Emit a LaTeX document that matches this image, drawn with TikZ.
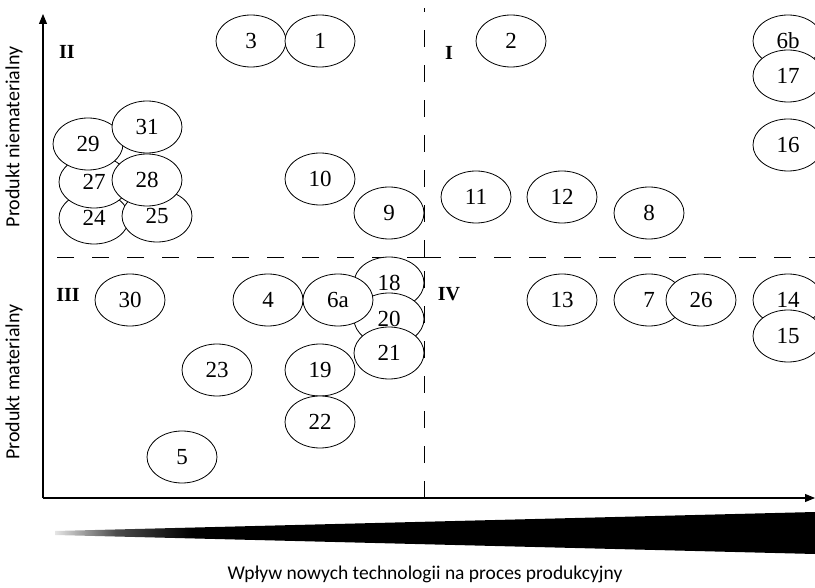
\documentclass[tikz,border=0pt]{standalone}
\usepackage{fontspec}
\setmainfont{Liberation Serif}
\newfontfamily\calfont{Carlito}
\usetikzlibrary{shapes.geometric,arrows.meta}
\pgfdeclarehorizontalshading{wedgeshade}{100bp}{color(0bp)=(black!10); color(25bp)=(black!10); color(29bp)=(black!70); color(34bp)=(black); color(100bp)=(black)}
\tikzset{
  bub/.style={ellipse, draw, fill=white, minimum width=70pt, minimum height=52pt, inner sep=0pt, line width=0.8pt, font=\fontsize{23}{25}\selectfont},
  quad/.style={font=\fontsize{20}{22}\selectfont\bfseries, inner sep=0pt},
  axislab/.style={font=\calfont\fontsize{20}{22}\selectfont, inner sep=0pt},
  qline/.style={line width=0.9pt, dash pattern=on 17pt off 18pt},
  axisline/.style={line width=1.1pt, -{Triangle[length=10pt,width=8pt]}}
}
\begin{document}
\begin{tikzpicture}[x=1pt,y=-1pt]
\useasboundingbox (0,0) rectangle (815,588);
\clip (0,0) rectangle (815,588);
% coordinates
\coordinate (O) at (43,498);
\coordinate (ytop) at (43,14);
\coordinate (xend) at (815,498);
\coordinate (c) at (424,257);
\coordinate (vtop) at (424,8);
\coordinate (vbot) at (424,498);
\coordinate (hl) at (43,257);
\coordinate (hr) at (815,257);
% dashed quadrant lines
\draw[qline] (c) -- (vtop);
\draw[qline] (c) -- (hr);
\draw[qline] (vbot) -- (c);
\draw[qline] (c) -- (hl);
% axes
\draw[axisline] (O) -- (ytop);
\draw[axisline] (O) -- (xend);
% quadrant labels
\node[quad] (qII) at (67,52) {II};
\node[quad] (qI) at (449,53) {I};
\node[quad] (qIII) at (68,295) {III};
\node[quad] (qIV) at (449,294) {IV};
% bubbles
\node[bub] (n3) at (251,41) {3};
\node[bub] (n1) at (320,41) {1};
\node[bub] (n2) at (511,41) {2};
\node[bub] (n6b) at (788,41) {6b};
\node[bub] (n17) at (788,76) {17};
\node[bub] (n16) at (788,145) {16};
\node[bub] (n24) at (94,218) {24};
\node[bub] (n25) at (157,216) {25};
\node[bub] (n27) at (94,182) {27};
\node[bub] (n29) at (88,144) {29};
\node[bub] (n31) at (147,127) {31};
\node[bub] (n28) at (147,180) {28};
\node[bub] (n10) at (320,179) {10};
\node[bub] (n9) at (389,213) {9};
\node[bub] (n11) at (476,197) {11};
\node[bub] (n12) at (562,197) {12};
\node[bub] (n8) at (649,213) {8};
\node[bub] (n30) at (130,300) {30};
\node[bub] (n4) at (268,300) {4};
\node[bub] (n18) at (389,283) {18};
\node[bub] (n20) at (389,319) {20};
\node[bub] (n21) at (389,353) {21};
\node[bub] (n6a) at (338,300) {6a};
\node[bub] (n23) at (217,370) {23};
\node[bub] (n19) at (320,370) {19};
\node[bub] (n22) at (320,422) {22};
\node[bub] (n5) at (182,457) {5};
\node[bub] (n13) at (562,300) {13};
\node[bub] (n7) at (649,300) {7};
\node[bub] (n26) at (701,300) {26};
\node[bub] (n14) at (788,300) {14};
\node[bub] (n15) at (788,336) {15};
% axis labels
\node[axislab, rotate=90] (ylab1) at (14,137) {Produkt niematerialny};
\node[axislab, rotate=90] (ylab2) at (14,382) {Produkt materialny};
% wedge
\shade[shading=wedgeshade] (55,531) -- (815,512) -- (815,554) -- (55,535) -- cycle;
\node[axislab, font=\calfont\fontsize{19.5}{22}\selectfont] (xlab) at (425,574) {Wpływ nowych technologii na proces produkcyjny};
\end{tikzpicture}
\end{document}
